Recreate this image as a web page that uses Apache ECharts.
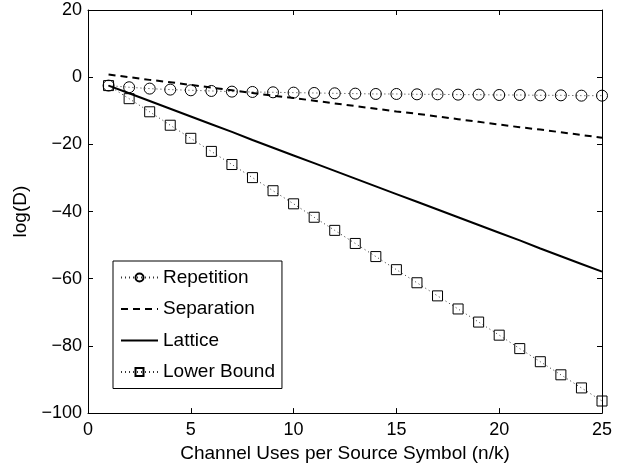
<!DOCTYPE html>
<html>
<head>
<meta charset="utf-8">
<script src="https://cdn.jsdelivr.net/npm/echarts@6/dist/echarts.min.js"></script>
<style>
html,body{margin:0;padding:0;background:#fff;}
#c{width:628px;height:468px;}
</style>
</head>
<body>
<div id="c"></div>
<script>
const xValues = [1,2,3,4,5,6,7,8,9,10,11,12,13,14,15,16,17,18,19,20,21,22,23,24,25];
const repetition = [-2.5,-3.0,-3.4,-3.7,-3.9,-4.1,-4.3,-4.4,-4.5,-4.6,-4.7,-4.8,-4.9,-5.0,-5.0,-5.1,-5.1,-5.2,-5.2,-5.3,-5.3,-5.4,-5.4,-5.5,-5.5];
const separation = [0.8,0.0,-0.8,-1.5,-2.3,-3.1,-3.9,-4.7,-5.5,-6.2,-7.0,-7.8,-8.6,-9.4,-10.2,-10.9,-11.7,-12.5,-13.3,-14.1,-14.9,-15.6,-16.4,-17.2,-18.0];
const lattice = [-2.5,-4.8,-7.1,-9.4,-11.7,-14.0,-16.3,-18.7,-21.0,-23.3,-25.6,-27.9,-30.2,-32.5,-34.8,-37.1,-39.4,-41.7,-44.0,-46.3,-48.6,-51.0,-53.3,-55.6,-57.9];
const lowerBound = [-2.5,-6.4,-10.3,-14.3,-18.2,-22.1,-26.0,-29.9,-33.8,-37.7,-41.7,-45.6,-49.5,-53.4,-57.3,-61.2,-65.1,-69.0,-72.9,-76.8,-80.8,-84.7,-88.6,-92.5,-96.4];
const seriesNames = ['Repetition','Separation','Lattice','Lower Bound'];
const xTicks = {min:0, max:25, interval:5};
const yTicks = {min:-100, max:20, interval:20};

const pair = arr => xValues.map((x,i)=>[x, arr[i]]);
const FONT = 'Liberation Sans';
const chart = echarts.init(document.getElementById('c'), null, {renderer:'canvas'});
const axisCommon = {
  type:'value',
  axisLine:{show:true, onZero:false, lineStyle:{color:'#000', width:1}},
  axisTick:{show:true, inside:true, length:5, lineStyle:{color:'#000'}},
  splitLine:{show:false},
};
const dotted = {color:'#333', width:1, type:[1,3]};
chart.setOption({
  animation:false,
  backgroundColor:'#fff',
  textStyle:{fontFamily:FONT},
  grid:{left:88, right:26, top:10, bottom:54},
  xAxis:[
    Object.assign({}, axisCommon, {position:'bottom', min:xTicks.min, max:xTicks.max, interval:xTicks.interval,
      name:'Channel Uses per Source Symbol (n/k)', nameLocation:'middle', nameGap:25,
      nameTextStyle:{fontSize:19, color:'#000', fontFamily:FONT},
      axisLabel:{fontSize:18, color:'#000', margin:8, fontFamily:FONT}}),
    Object.assign({}, axisCommon, {position:'top', min:xTicks.min, max:xTicks.max, interval:xTicks.interval,
      axisLabel:{show:false}})
  ],
  yAxis:[
    Object.assign({}, axisCommon, {position:'left', min:yTicks.min, max:yTicks.max, interval:yTicks.interval,
      name:'log(D)', nameLocation:'middle', nameGap:55,
      nameTextStyle:{fontSize:19, color:'#000', fontFamily:FONT},
      axisLabel:{fontSize:18, color:'#000', margin:6, fontFamily:FONT,
        formatter: v => (v<0 ? '\u2212'+Math.abs(v) : String(v))}}),
    Object.assign({}, axisCommon, {position:'right', min:yTicks.min, max:yTicks.max, interval:yTicks.interval,
      axisLabel:{show:false}})
  ],
  legend:{
    orient:'vertical', left:113, top:261,
    backgroundColor:'#fff', borderColor:'#000', borderWidth:1,
    padding:[7,7,7,7], itemGap:12.5, itemWidth:37, itemHeight:10,
    textStyle:{fontSize:19, color:'#000', fontFamily:FONT},
    data:[
      {name:seriesNames[0]},
      {name:seriesNames[1], itemStyle:{opacity:0}},
      {name:seriesNames[2], itemStyle:{opacity:0}},
      {name:seriesNames[3]}
    ]
  },
  series:[
    {name:seriesNames[0], type:'line', data:pair(repetition), symbol:'circle', symbolSize:11,
      lineStyle:dotted,
      itemStyle:{color:'rgba(0,0,0,0)', borderColor:'#000', borderWidth:1}},
    {name:seriesNames[1], type:'line', data:pair(separation), showSymbol:false, symbol:'none',
      lineStyle:{color:'#000', width:2, type:[7,5]}, itemStyle:{color:'#000'}},
    {name:seriesNames[2], type:'line', data:pair(lattice), showSymbol:false, symbol:'none',
      lineStyle:{color:'#000', width:2, type:'solid'}, itemStyle:{color:'#000'}},
    {name:seriesNames[3], type:'line', data:pair(lowerBound), symbol:'rect', symbolSize:10,
      lineStyle:dotted,
      itemStyle:{color:'rgba(0,0,0,0)', borderColor:'#000', borderWidth:1}}
  ]
});
</script>
</body>
</html>
